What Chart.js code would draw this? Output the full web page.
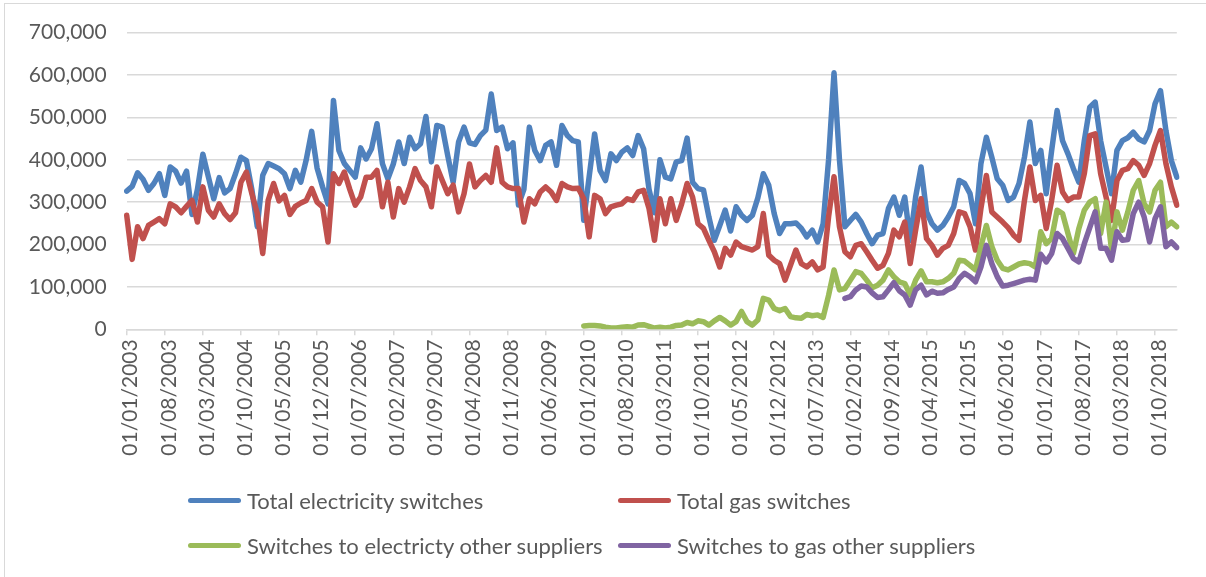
<!DOCTYPE html>
<html><head><meta charset="utf-8">
<script src="https://cdn.jsdelivr.net/npm/chart.js@4.4.1/dist/chart.umd.min.js"></script>
<style>
html,body{margin:0;padding:0;background:#fff;}
#wrap{position:relative;width:1206px;height:577px;overflow:hidden;background:#fff;}
#frame{position:absolute;left:4px;top:3px;width:1300px;height:700px;border:1px solid #d9d9d9;box-sizing:border-box;}
#c{position:absolute;left:0;top:0;}
.lgi{position:absolute;height:30px;display:flex;align-items:center;white-space:nowrap;}
.sw{width:53px;height:5px;border-radius:3px;margin-right:6px;}
.tx{font-family:Lato,'Liberation Sans',sans-serif;font-size:22px;color:#595959;line-height:30px;}
</style></head>
<body><div id="wrap"><div id="frame"></div><canvas id="c" width="1206" height="577"></canvas><div id="legend"></div></div>
<script>
const categories = [
 '01/01/2003','01/02/2003','01/03/2003','01/04/2003','01/05/2003','01/06/2003','01/07/2003','01/08/2003','01/09/2003','01/10/2003','01/11/2003','01/12/2003',
 '01/01/2004','01/02/2004','01/03/2004','01/04/2004','01/05/2004','01/06/2004','01/07/2004','01/08/2004','01/09/2004','01/10/2004','01/11/2004','01/12/2004',
 '01/01/2005','01/02/2005','01/03/2005','01/04/2005','01/05/2005','01/06/2005','01/07/2005','01/08/2005','01/09/2005','01/10/2005','01/11/2005','01/12/2005',
 '01/01/2006','01/02/2006','01/03/2006','01/04/2006','01/05/2006','01/06/2006','01/07/2006','01/08/2006','01/09/2006','01/10/2006','01/11/2006','01/12/2006',
 '01/01/2007','01/02/2007','01/03/2007','01/04/2007','01/05/2007','01/06/2007','01/07/2007','01/08/2007','01/09/2007','01/10/2007','01/11/2007','01/12/2007',
 '01/01/2008','01/02/2008','01/03/2008','01/04/2008','01/05/2008','01/06/2008','01/07/2008','01/08/2008','01/09/2008','01/10/2008','01/11/2008','01/12/2008',
 '01/01/2009','01/02/2009','01/03/2009','01/04/2009','01/05/2009','01/06/2009','01/07/2009','01/08/2009','01/09/2009','01/10/2009','01/11/2009','01/12/2009',
 '01/01/2010','01/02/2010','01/03/2010','01/04/2010','01/05/2010','01/06/2010','01/07/2010','01/08/2010','01/09/2010','01/10/2010','01/11/2010','01/12/2010',
 '01/01/2011','01/02/2011','01/03/2011','01/04/2011','01/05/2011','01/06/2011','01/07/2011','01/08/2011','01/09/2011','01/10/2011','01/11/2011','01/12/2011',
 '01/01/2012','01/02/2012','01/03/2012','01/04/2012','01/05/2012','01/06/2012','01/07/2012','01/08/2012','01/09/2012','01/10/2012','01/11/2012','01/12/2012',
 '01/01/2013','01/02/2013','01/03/2013','01/04/2013','01/05/2013','01/06/2013','01/07/2013','01/08/2013','01/09/2013','01/10/2013','01/11/2013','01/12/2013',
 '01/01/2014','01/02/2014','01/03/2014','01/04/2014','01/05/2014','01/06/2014','01/07/2014','01/08/2014','01/09/2014','01/10/2014','01/11/2014','01/12/2014',
 '01/01/2015','01/02/2015','01/03/2015','01/04/2015','01/05/2015','01/06/2015','01/07/2015','01/08/2015','01/09/2015','01/10/2015','01/11/2015','01/12/2015',
 '01/01/2016','01/02/2016','01/03/2016','01/04/2016','01/05/2016','01/06/2016','01/07/2016','01/08/2016','01/09/2016','01/10/2016','01/11/2016','01/12/2016',
 '01/01/2017','01/02/2017','01/03/2017','01/04/2017','01/05/2017','01/06/2017','01/07/2017','01/08/2017','01/09/2017','01/10/2017','01/11/2017','01/12/2017',
 '01/01/2018','01/02/2018','01/03/2018','01/04/2018','01/05/2018','01/06/2018','01/07/2018','01/08/2018','01/09/2018','01/10/2018','01/11/2018','01/12/2018',
 '01/01/2019','01/02/2019'
];

const totalElectricity = [
 326000,337000,369000,354000,328000,344000,367000,316000,383000,373000,
 345000,373000,271000,330000,413000,360000,308000,358000,322000,332000,
 367000,406000,398000,330000,242000,363000,391000,385000,379000,367000,
 332000,375000,347000,400000,467000,380000,336000,296000,540000,422000,
 391000,375000,359000,428000,402000,426000,485000,391000,355000,390000,
 442000,391000,453000,426000,438000,502000,395000,481000,477000,410000,
 347000,442000,477000,440000,436000,457000,470000,555000,469000,477000,
 426000,440000,293000,330000,477000,422000,398000,434000,442000,387000,
 481000,457000,445000,442000,257000,360000,461000,375000,351000,414000,
 398000,418000,428000,410000,457000,426000,330000,275000,400000,359000,
 355000,395000,398000,451000,347000,332000,329000,265000,210000,245000,
 281000,232000,289000,269000,257000,269000,310000,367000,340000,273000,
 226000,249000,249000,251000,238000,218000,234000,206000,249000,400000,
 605000,400000,242000,257000,271000,253000,226000,202000,222000,226000,
 285000,312000,269000,312000,210000,312000,383000,277000,249000,234000,
 245000,265000,289000,351000,344000,320000,249000,391000,453000,406000,
 355000,340000,304000,312000,344000,406000,489000,391000,422000,320000,
 422000,516000,445000,414000,379000,347000,445000,524000,536000,445000,
 383000,320000,422000,445000,452000,465000,449000,442000,469000,532000,
 563000,469000,398000,359000
];

const totalGas = [
 269000,165000,242000,214000,245000,253000,261000,249000,296000,289000,
 275000,290000,304000,253000,336000,281000,265000,296000,273000,259000,
 275000,347000,371000,320000,273000,179000,304000,344000,303000,316000,
 271000,290000,298000,304000,332000,300000,289000,206000,367000,344000,
 371000,330000,293000,312000,359000,359000,375000,289000,347000,265000,
 332000,300000,336000,379000,351000,336000,289000,383000,351000,320000,
 340000,277000,320000,390000,336000,351000,363000,347000,428000,347000,
 336000,332000,332000,253000,308000,296000,324000,336000,324000,304000,
 344000,336000,332000,333000,308000,218000,316000,308000,273000,289000,
 293000,296000,308000,304000,324000,328000,285000,210000,308000,249000,
 308000,257000,296000,344000,312000,249000,238000,210000,183000,147000,
 191000,175000,206000,195000,191000,187000,195000,273000,175000,163000,
 155000,116000,151000,187000,155000,147000,159000,140000,147000,265000,
 360000,242000,183000,171000,198000,202000,183000,163000,144000,151000,
 179000,234000,218000,253000,155000,234000,308000,214000,198000,175000,
 191000,198000,226000,277000,273000,242000,187000,285000,363000,277000,
 265000,253000,240000,222000,210000,304000,383000,304000,316000,238000,
 304000,387000,324000,304000,312000,312000,367000,457000,461000,367000,
 312000,257000,351000,375000,379000,398000,387000,363000,391000,434000,
 469000,391000,336000,293000
];

// Switches to other suppliers (electricity) – series starts 01/01/2010
const elecOtherStart = '01/01/2010';
const elecOther = [
 8000,9000,9000,8000,5000,3000,3000,5000,6000,5000,
 10000,11000,7000,3000,5000,3000,5000,9000,10000,16000,
 13000,20000,18000,10000,20000,28000,20000,10000,18000,42000,
 18000,10000,22000,73000,69000,49000,44000,49000,30000,27000,
 26000,35000,32000,34000,28000,80000,140000,93000,96000,116000,
 136000,132000,116000,98000,104000,116000,140000,124000,112000,108000,
 81000,116000,138000,112000,112000,110000,112000,120000,132000,163000,
 161000,151000,140000,195000,245000,195000,163000,144000,140000,147000,
 154000,157000,155000,147000,230000,202000,214000,281000,273000,226000,
 179000,238000,281000,300000,308000,226000,300000,187000,277000,234000,
 277000,328000,351000,296000,277000,328000,347000,242000,253000,242000
];

// Switches to other suppliers (gas) – series starts 01/01/2014
const gasOtherStart = '01/01/2014';
const gasOther = [
 73000,77000,93000,102000,100000,86000,75000,77000,93000,110000,
 91000,81000,57000,93000,104000,81000,90000,85000,86000,94000,
 100000,120000,132000,124000,112000,147000,198000,155000,124000,102000,
 104000,108000,112000,116000,118000,116000,177000,159000,179000,226000,
 214000,191000,167000,159000,202000,240000,277000,191000,191000,163000,
 230000,210000,212000,273000,300000,265000,206000,261000,289000,195000,
 206000,193000
];

const seriesNames = ['Total electricity switches','Total gas switches','Switches to electricty other suppliers','Switches to gas other suppliers'];
const seriesColors = ['#4F81BD','#C0504D','#9BBB59','#8064A2'];
const yMin = 0, yMax = 700000, yStep = 100000;
const labelEvery = 7;

function fromStart(start, vals){
  const s = categories.indexOf(start);
  return vals.map((v,k)=>({x: categories[s+k], y: v}));
}

function draw(){
  const FONT = {family: "Lato, 'Liberation Sans', sans-serif", size: 21};
  const mk = (i, data, order) => ({
    label: seriesNames[i], data, borderColor: seriesColors[i], backgroundColor: seriesColors[i],
    borderWidth: 5.5, pointRadius: 0, tension: 0, fill: false, order,
    borderCapStyle: 'round', borderJoinStyle: 'round'
  });
  const chart = new Chart(document.getElementById('c'), {
    type: 'line',
    data: {
      labels: categories,
      datasets: [
        mk(0, totalElectricity, 3),
        mk(1, totalGas, 2),
        mk(2, fromStart(elecOtherStart, elecOther), 1),
        mk(3, fromStart(gasOtherStart, gasOther), 0)
      ]
    },
    options: {
      responsive: false, animation: false, devicePixelRatio: 1,
      layout: {padding: {left: 0, right: 23.7, top: 31.8, bottom: 0}},
      plugins: {legend: {display: false}, tooltip: {enabled: false}},
      scales: {
        x: {
          type: 'category', offset: false,
          grid: {
            drawOnChartArea: false, drawTicks: true, tickLength: 6, lineWidth: 1.5,
            color: c => (c.index % labelEvery === 0 ? '#d9d9d9' : 'rgba(0,0,0,0)')
          },
          border: {display: true, color: '#d9d9d9', width: 1.5},
          ticks: {
            autoSkip: false, minRotation: 90, maxRotation: 90, padding: 4, labelOffset: 4,
            color: '#595959', font: FONT,
            callback: function(v, i){ return i % labelEvery === 0 ? this.getLabelForValue(v) : ''; }
          },
          afterFit: s => { s.height = 247.7; }
        },
        y: {
          min: yMin, max: yMax,
          grid: {color: '#d9d9d9', lineWidth: 1.5, drawTicks: false},
          border: {display: false},
          ticks: {stepSize: yStep, padding: 20, color: '#595959', font: FONT,
                  callback: v => Number(v).toLocaleString('en-US')},
          afterFit: s => { s.width = 126.7; }
        }
      }
    }
  });

  const legendPos = [{x:188,y:500.5},{x:618,y:500.5},{x:188,y:545.5},{x:618,y:545.5}];
  const lg = document.getElementById('legend');
  chart.data.datasets.forEach((d, i) => {
    const it = document.createElement('div');
    it.className = 'lgi';
    it.style.left = legendPos[i].x + 'px';
    it.style.top = (legendPos[i].y - 15) + 'px';
    const sw = document.createElement('div');
    sw.className = 'sw'; sw.style.background = d.borderColor;
    const tx = document.createElement('span');
    tx.className = 'tx'; tx.textContent = d.label;
    it.appendChild(sw); it.appendChild(tx);
    lg.appendChild(it);
  });
}

if (document.fonts && document.fonts.load) {
  document.fonts.load("21px Lato").then(draw, draw);
} else { draw(); }
</script>
</body></html>
